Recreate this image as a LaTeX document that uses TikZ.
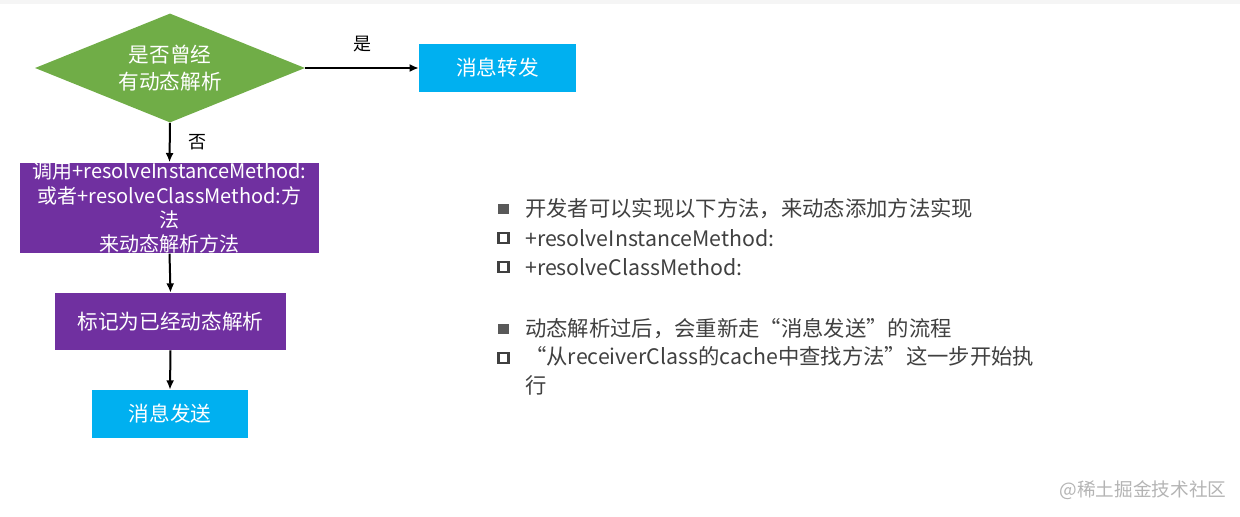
\documentclass[tikz,border=0pt]{standalone}
\usepackage{fontspec}
\setmainfont{Noto Sans CJK SC}
\usetikzlibrary{positioning}
\usetikzlibrary{arrows.meta}
\usetikzlibrary{shapes.geometric}

\definecolor{askgreen}{HTML}{70AD47}
\definecolor{msgblue}{HTML}{00B0F0}
\definecolor{stepviolet}{HTML}{7030A0}
\definecolor{notegray}{HTML}{404040}
\definecolor{dotgray}{HTML}{595959}
\definecolor{markgray}{HTML}{B4B4B4}

\begin{document}
\begin{tikzpicture}[
	x=0.75pt, y=-0.75pt,
	ask/.style={diamond, fill=askgreen, text=white, align=center, inner sep=0pt, shape aspect=2.5,
		minimum width=202.5pt, minimum height=81.75pt, font=\fontsize{15.5}{20}\selectfont},
	msg/.style={rectangle, fill=msgblue, text=white, inner sep=0pt,
		minimum width=117.5pt, minimum height=36pt, font=\fontsize{15.5}{18}\selectfont},
	stepbox/.style={rectangle, fill=stepviolet, text=white, align=center, inner sep=0pt},
	flow/.style={-{Latex[length=7pt, width=6pt]}, line width=1.5pt},
	answer/.style={font=\fontsize{13.5}{16}\selectfont},
	note/.style={anchor=west, inner sep=0pt, text=notegray, align=left,
		font=\fontsize{16}{22}\selectfont},
	fullsq/.style={rectangle, fill=dotgray, inner sep=0pt, minimum size=8pt},
	emptysq/.style={rectangle, draw=notegray, line width=1.7pt, inner sep=0pt, minimum size=7.4pt},
]
	\useasboundingbox (0,0) rectangle (1240,517);
	\fill[black!4] (0,0) rectangle (1240,4);

	% flow chart
	\node[ask] (asked) at (170,68) {是否曾经\\有动态解析};
	\node[msg] (forward) at (497.5,68) {消息转发};
	\node[stepbox, minimum width=224.25pt, minimum height=64.5pt,
		font=\fontsize{15}{18.2}\selectfont] (resolve) at (169.5,208)
		{调用+resolveInstanceMethod:\\或者+resolveClassMethod:方\\法\\来动态解析方法};
	\node[stepbox, minimum width=173.25pt, minimum height=42.75pt,
		font=\fontsize{15.5}{18}\selectfont] (marked) at (170.5,321.5) {标记为已经动态解析};
	\node[msg] (send) at (170,414) {消息发送};

	\draw[flow] (asked.east) -- node[answer, above=8pt] {是} (forward.west);
	\draw[flow] (asked.south) -- node[answer, right=10pt] {否} (resolve.north);
	\draw[flow] (resolve.south) -- (marked.north);
	\draw[flow] (marked.south) -- (send.north);

	% notes
	\node[fullsq] (dot1) at (503.5,209) {};
	\node[note] (line1) at (525,209) {开发者可以实现以下方法，来动态添加方法实现};
	\node[emptysq] (dot2) at (503.5,238) {};
	\node[note] (line2) at (525,238) {+resolveInstanceMethod:};
	\node[emptysq] (dot3) at (503.5,267) {};
	\node[note] (line3) at (525,267) {+resolveClassMethod:};
	\node[fullsq] (dot4) at (503.5,329) {};
	\node[note] (line4) at (525,329) {动态解析过后，会重新走“消息发送”的流程};
	\node[emptysq] (dot5) at (503.5,358) {};
	\node[note, anchor=north west] (line5) at (525,346)
		{“从receiverClass的cache中查找方法”这一步开始执\\行};

	\node[text=markgray, font=\fontsize{14}{16}\selectfont] (stamp) at (1143,490) {@稀土掘金技术社区};
\end{tikzpicture}
\end{document}
